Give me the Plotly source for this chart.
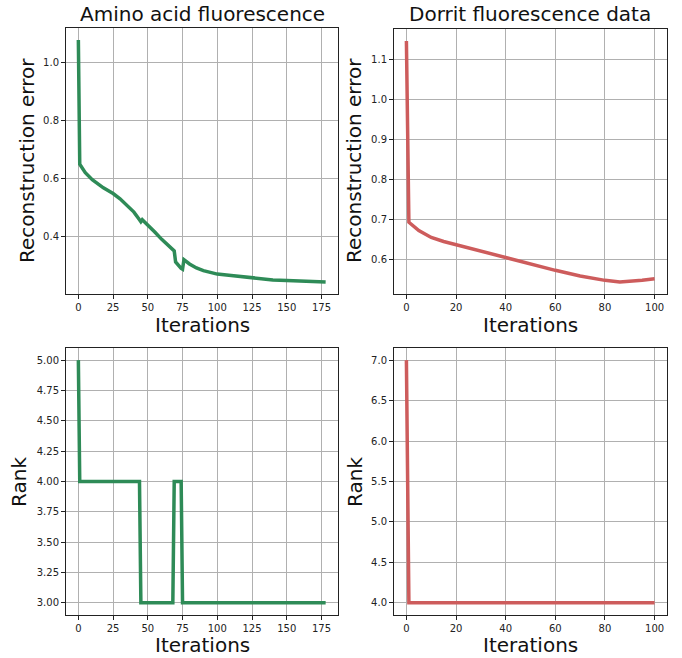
import plotly.graph_objects as go

W, H = 682, 658

# ---- data ----
amino_err_x = [0, 1, 5, 10, 18, 25, 30, 35, 40, 44, 45, 46, 50, 55, 60, 65, 68, 69, 70, 72, 74, 75, 76, 80, 85, 90, 100, 110, 125, 140, 150, 165, 178]
amino_err_y = [1.078, 0.649, 0.620, 0.596, 0.568, 0.548, 0.530, 0.508, 0.484, 0.458, 0.451, 0.458, 0.440, 0.415, 0.390, 0.366, 0.354, 0.350, 0.312, 0.300, 0.290, 0.287, 0.320, 0.305, 0.291, 0.282, 0.270, 0.265, 0.257, 0.250, 0.248, 0.245, 0.243]

dorrit_err_x = [0, 1, 5, 10, 15, 20, 30, 40, 50, 60, 70, 80, 86, 90, 95, 100]
dorrit_err_y = [1.145, 0.693, 0.672, 0.655, 0.645, 0.637, 0.620, 0.604, 0.588, 0.573, 0.559, 0.548, 0.544, 0.545, 0.548, 0.552]

amino_rank_x = [0, 1, 44, 45, 68, 69, 74, 75, 178]
amino_rank_y = [5, 4, 4, 3, 3, 4, 4, 3, 3]

dorrit_rank_x = [0, 1, 100]
dorrit_rank_y = [7, 4, 4]

titles = ["Amino acid fluorescence", "Dorrit fluorescence data"]
xlabel = "Iterations"
ylabels = ["Reconstruction error", "Rank"]

GREEN = "#2E8B57"
RED = "#CD5C5C"

# axes boxes in pixels (left, right, top, bottom)
boxes = {
    "tl": (66, 338, 28, 294),
    "tr": (394, 667, 29, 294),
    "bl": (66, 338, 348, 615),
    "br": (394, 667, 348, 615),
}

def pad(vals):
    lo, hi = min(vals), max(vals)
    d = (hi - lo) * 0.05
    return [lo - d, hi + d]

fig = go.Figure()

panels = [
    ("tl", "x", "y", amino_err_x, amino_err_y, GREEN, 0.2, ".1f", 25),
    ("tr", "x2", "y2", dorrit_err_x, dorrit_err_y, RED, 0.1, ".1f", 20),
    ("bl", "x3", "y3", amino_rank_x, amino_rank_y, GREEN, 0.25, ".2f", 25),
    ("br", "x4", "y4", dorrit_rank_x, dorrit_rank_y, RED, 0.5, ".1f", 20),
]

axis_common = dict(
    showline=True, linecolor="#222", linewidth=1, mirror=True,
    showgrid=True, gridcolor="#b0b0b0", gridwidth=0.8,
    ticks="outside", ticklen=4, tickcolor="#222", tickwidth=1,
    tickfont=dict(family="DejaVu Sans", size=10, color="#222"),
    zeroline=False,
)

for key, xa, ya, xs, ys, col, dy, fmt, dx in panels:
    fig.add_trace(go.Scatter(x=xs, y=ys, mode="lines", xaxis=xa, yaxis=ya,
                             line=dict(color=col, width=3.5), showlegend=False))
    l, r, t, b = boxes[key]
    xname = "xaxis" if xa == "x" else "xaxis" + xa[1:]
    yname = "yaxis" if ya == "y" else "yaxis" + ya[1:]
    fig.layout[xname] = dict(axis_common, domain=[l / W, r / W], range=pad(xs),
                             dtick=dx, tick0=0, anchor=ya)
    fig.layout[yname] = dict(axis_common, domain=[1 - b / H, 1 - t / H], range=pad(ys),
                             dtick=dy, tick0=0, tickformat=fmt, anchor=xa)

ann = []
def text(x, y, s, size, angle=0):
    ann.append(dict(x=x / W, y=1 - y / H, xref="paper", yref="paper", text=s,
                    showarrow=False, textangle=angle, xanchor="center", yanchor="middle",
                    font=dict(family="DejaVu Sans", size=size, color="#111")))

text(202, 14, titles[0], 20)
text(530, 14, titles[1], 20)
text(202, 325, xlabel, 20)
text(530, 325, xlabel, 20)
text(202, 645, xlabel, 20)
text(530, 645, xlabel, 20)
text(27, 161, ylabels[0], 20, -90)
text(354, 161, ylabels[0], 20, -90)
text(19, 482, ylabels[1], 20, -90)
text(355, 482, ylabels[1], 20, -90)

fig.update_layout(width=W, height=H, margin=dict(l=0, r=0, t=0, b=0),
                  paper_bgcolor="white", plot_bgcolor="white", annotations=ann)

fig.write_html("out.html")
